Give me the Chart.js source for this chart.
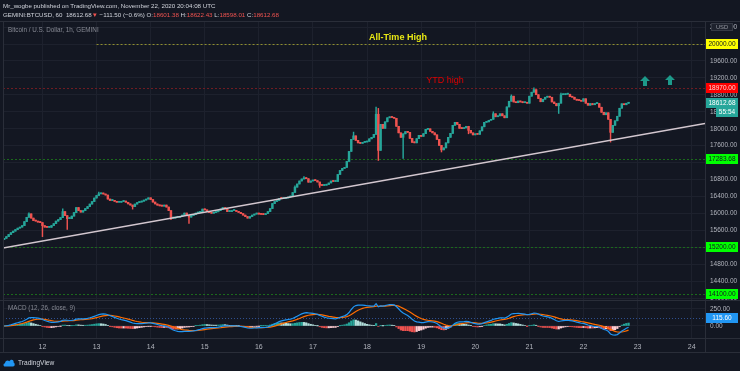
<!DOCTYPE html>
<html>
<head>
<meta charset="utf-8">
<script src="https://cdn.jsdelivr.net/npm/chart.js@4.4.0/dist/chart.umd.min.js"></script>
<style>
  body { margin: 0; background: #131722; }
  #wrap { position: relative; width: 740px; height: 371px; overflow: hidden; background: #131722; font-family: "Liberation Sans", Arial, sans-serif; }
  #c { position: absolute; left: 0; top: 0; }
  .hd { position: absolute; left: 3px; font-size: 6.2px; color: #d1d4dc; white-space: nowrap; }
  #h1 { top: 2px; }
  #h2 { top: 11px; }
  .red { color: #ef5350; }
  #foot { position: absolute; left: 3px; top: 358px; font-size: 6.6px; color: #d1d4dc; display: flex; align-items: center; gap: 3px; }
</style>
</head>
<body>
<div id="wrap">
  <canvas id="c" width="740" height="371"></canvas>
  <div class="hd" id="h1">Mr_wogbe published on TradingView.com, November 22, 2020 20:04:08 UTC</div>
  <div class="hd" id="h2">GEMINI:BTCUSD, 60&nbsp; 18612.68<span class="red">▼</span> −111.50 (−0.6%) O:<span class="red">18601.38</span> H:<span class="red">18622.43</span> L:<span class="red">18598.01</span> C:<span class="red">18612.68</span></div>
  <div id="foot">
    <svg width="12" height="9" viewBox="0 0 12 9"><path d="M2 8.5 C0 8.5 0 5.5 2 5.3 C2 2.5 5 1.5 6.3 3.3 C7.5 0.5 11.5 1.5 10.5 4.6 C12.3 5.2 12 8.5 10 8.5 Z" fill="#2196f3"/></svg>
    <span>TradingView</span>
  </div>
</div>
<script>
// x values are hours counted from Nov 11 2020 00:00 UTC
const days = ["12", "13", "14", "15", "16", "17", "18", "19", "20", "21", "22", "23", "24"];
const firstHour = 7;
const firstOpen = 15380;

// hourly closes, Nov 11 07:00 -> Nov 22 20:00
const closes = [
  15410, 15450, 15500, 15544, 15580, 15616, 15651, 15675, 15710, 15805,
  15907, 15988, 15888, 15829, 15817, 15793, 15782, 15710, 15675, 15670,
  15670, 15710, 15758, 15817, 15852, 15900, 16042, 15947, 15876, 15876,
  15935, 16018, 16137, 16066, 16030, 16066, 16113, 16160, 16220, 16279,
  16362, 16421, 16461, 16461, 16457, 16433, 16338, 16303, 16303, 16284,
  16262, 16262, 16279, 16291, 16262, 16224, 16196, 16160, 16220, 16255,
  16267, 16286, 16314, 16338, 16367, 16327, 16267, 16222, 16194, 16177,
  16170, 16196, 16149, 16066, 15888, 15888, 15907, 15907, 15924, 15959,
  16007, 15947, 15912, 15947, 15971, 16007, 16025, 16030, 16101, 16082,
  16042, 16018, 16002, 16018, 16037, 16066, 16101, 16137, 16106, 16042,
  16042, 16066, 16066, 16047, 16023, 15995, 15959, 15924, 15888, 15924,
  15959, 15983, 15995, 15983, 15976, 15971, 15995, 16042, 16113, 16232,
  16279, 16303, 16355, 16350, 16350, 16362, 16386, 16409, 16492, 16618,
  16694, 16765, 16812, 16836, 16819, 16736, 16765, 16777, 16772, 16741,
  16665, 16658, 16665, 16682, 16718, 16765, 16753, 16753, 16919, 17014,
  17062, 17085, 17227, 17464, 17748, 17831, 17725, 17666, 17654, 17678,
  17685, 17701, 17761, 17796, 17867, 18341, 17488, 18104, 18009, 18163,
  18258, 18277, 18265, 18246, 18057, 17902, 17796, 17879, 17931, 17914,
  17772, 17678, 17666, 17765, 17843, 17820, 17883, 17985, 17997, 17938,
  17902, 17855, 17748, 17606, 17500, 17547, 17666, 17796, 17890, 18080,
  18151, 18104, 18009, 18002, 18021, 18057, 17962, 17902, 17855, 17879,
  17867, 17950, 18045, 18151, 18163, 18199, 18222, 18353, 18282, 18305,
  18353, 18305, 18258, 18514, 18649, 18768, 18632, 18614, 18654, 18632,
  18614, 18625, 18602, 18768, 18862, 18922, 18803, 18713, 18637, 18696,
  18744, 18756, 18744, 18632, 18594, 18542, 18602, 18803, 18803, 18815,
  18815, 18756, 18744, 18696, 18673, 18666, 18649, 18708, 18602, 18554,
  18594, 18566, 18594, 18594, 18507, 18388, 18329, 18376, 18222, 17914,
  18080, 18187, 18294, 18483, 18590, 18566, 18601.38, 18612.68
];
// visible wicks (candle index -> price)
const wickHigh = { 11: 16010, 26: 16110, 42: 16500, 129: 16650, 133: 16870, 155: 17920, 165: 18510, 166: 18480, 217: 18400, 225: 18800, 235: 18965, 247: 18840, 277: 18622.43 };
const wickLow = { 17: 15450, 28: 15620, 57: 16100, 74: 15850, 82: 15760, 140: 16610, 166: 17250, 177: 17300, 194: 17450, 206: 17880, 246: 18360, 269: 17684, 277: 18598.01 };

const macdTicks = [0, 250];
const levels = [20000, 18970, 17283.68, 15200, 14100];
const levelStart = [48, 6.5, 6.5, 6.5, 6.5];
const trendX = [6.5, 317.9];
const trendY = [15180, 18125];
const macdMark = 115.60;
const notes = ["All-Time High", "YTD high"];
const noteX = [181.7, 202.6];
const noteY = [20166, 19147];
const arrowX = [291.3, 302.4];
const arrowY = [19135, 19150];
const lastPrice = 18612.68;

const UP = "#26a69a";
const DOWN = "#ef5350";
const GRID = "#1d212d";
const LINE = "#2a2e39";
const TXT = "#b2b5be";
const FONT = '"Liberation Sans", Arial, sans-serif';
const levelLine = ["#8f8f2e", "#6e1c22", "#1b6a1b", "#1b6a1b", "#1b6a1b"];
const levelBg = ["#ffff00", "#ff0000", "#00ff00", "#00ff00", "#00ff00"];
const levelFg = ["#131722", "#ffd6d6", "#131722", "#131722", "#131722"];
const noteColor = ["#e8e814", "#e00000"];

const opens = closes.map((c, i) => (i === 0 ? firstOpen : closes[i - 1]));
const hours = closes.map((c, i) => firstHour + i);
const highs = closes.map((c, i) => Math.max(opens[i], c, wickHigh[i] || 0));
const lows = closes.map((c, i) => Math.min(opens[i], c, wickLow[i] || Infinity));
const candleColors = closes.map((c, i) => (c >= opens[i] ? UP : DOWN));

// MACD (12, 26, close, 9)
function ema(src, n) {
  const k = 2 / (n + 1);
  const out = [];
  src.forEach((v, i) => out.push(i === 0 ? v : v * k + out[i - 1] * (1 - k)));
  return out;
}
const e12 = ema(closes, 12);
const e26 = ema(closes, 26);
const macd = e12.map((v, i) => v - e26[i]);
const signal = ema(macd, 9);
const hist = macd.map((v, i) => v - signal[i]);
const histColors = hist.map((h, i) => {
  const prev = i ? hist[i - 1] : 0;
  if (h >= 0) return h >= prev ? "#26a69a" : "#b2dfdb";
  return h < prev ? "#ef5350" : "#ffcdd2";
});

function badge(ctx, yPix, text, bg, fg, x0, w) {
  ctx.fillStyle = bg;
  ctx.fillRect(x0, Math.round(yPix) - 5, w, 10);
  ctx.fillStyle = fg;
  ctx.font = "6.5px " + FONT;
  ctx.textAlign = "center";
  ctx.textBaseline = "middle";
  ctx.fillText(text, x0 + w / 2, Math.round(yPix) + 0.5);
}

const decor = {
  id: "decor",
  beforeDatasetsDraw(chart) {
    const { ctx, chartArea: a, scales: { x, y, y2 } } = chart;
    ctx.save();
    ctx.lineWidth = 1;
    ctx.setLineDash([2, 2]);
    levels.forEach((p, k) => {
      const py = Math.round(y.getPixelForValue(p)) + 0.5;
      ctx.strokeStyle = levelLine[k];
      ctx.beginPath();
      ctx.moveTo(x.getPixelForValue(levelStart[k]), py);
      ctx.lineTo(a.right, py);
      ctx.stroke();
    });
    ctx.strokeStyle = "#2f4f8f";
    ctx.setLineDash([1, 2]);
    const my = Math.round(y2.getPixelForValue(macdMark)) + 0.5;
    ctx.beginPath();
    ctx.moveTo(a.left, my);
    ctx.lineTo(a.right, my);
    ctx.stroke();
    ctx.restore();
  },
  afterDraw(chart) {
    const { ctx, chartArea: a, scales: { x, y, y2 } } = chart;
    ctx.save();
    // pane borders
    ctx.strokeStyle = LINE;
    ctx.lineWidth = 1;
    [21.5, Math.round(y2.top) + 0.5, a.bottom + 0.5, 352.5].forEach((ly) => {
      ctx.beginPath();
      ctx.moveTo(0, ly);
      ctx.lineTo(740, ly);
      ctx.stroke();
    });
    ctx.beginPath();
    ctx.moveTo(3.5, 21.5);
    ctx.lineTo(3.5, 352.5);
    ctx.moveTo(a.right + 0.5, 21.5);
    ctx.lineTo(a.right + 0.5, 352.5);
    ctx.stroke();

    ctx.textBaseline = "middle";
    ctx.textAlign = "left";
    ctx.fillStyle = "#868993";
    ctx.font = "6.3px " + FONT;
    ctx.fillText("Bitcoin / U.S. Dollar, 1h, GEMINI", 8, 30);
    ctx.fillText("MACD (12, 26, close, 9)", 8, y2.top + 8);

    // notes
    ctx.textAlign = "center";
    notes.forEach((t, k) => {
      ctx.fillStyle = noteColor[k];
      ctx.font = (k === 0 ? "bold 9px " : "9px ") + FONT;
      ctx.fillText(t, x.getPixelForValue(noteX[k]), y.getPixelForValue(noteY[k]));
    });

    // arrows
    ctx.fillStyle = "#1d9a8a";
    arrowX.forEach((ax, k) => {
      const cx = Math.round(x.getPixelForValue(ax));
      const cy = Math.round(y.getPixelForValue(arrowY[k]));
      ctx.beginPath();
      ctx.moveTo(cx, cy - 5);
      ctx.lineTo(cx + 5, cy);
      ctx.lineTo(cx + 2, cy);
      ctx.lineTo(cx + 2, cy + 5);
      ctx.lineTo(cx - 2, cy + 5);
      ctx.lineTo(cx - 2, cy);
      ctx.lineTo(cx - 5, cy);
      ctx.closePath();
      ctx.fill();
    });

    // price badges
    const bx = a.right + 1;
    levels.forEach((p, k) => {
      badge(ctx, y.getPixelForValue(p), p.toFixed(2), levelBg[k], levelFg[k], bx, 32);
    });
    const ly = y.getPixelForValue(lastPrice);
    badge(ctx, ly, lastPrice.toFixed(2), "#26a69a", "#ffffff", bx, 32);
    badge(ctx, ly + 9.5, "55:54", "#26a69a", "#ffffff", bx + 10, 22);
    badge(ctx, y2.getPixelForValue(macdMark), macdMark.toFixed(2), "#2196f3", "#ffffff", bx, 32);

    // currency tag
    ctx.fillStyle = "#1e222d";
    ctx.strokeStyle = "#363a45";
    ctx.fillRect(bx + 5, 23, 22, 8);
    ctx.strokeRect(bx + 5.5, 23.5, 21, 7);
    ctx.fillStyle = "#9598a1";
    ctx.font = "5.8px " + FONT;
    ctx.fillText("USD", bx + 16, 27.5);
    ctx.restore();
  }
};

new Chart(document.getElementById("c"), {
  type: "bar",
  data: {
    datasets: [
      {
        type: "line",
        data: trendX.map((v, i) => ({ x: v, y: trendY[i] })),
        borderColor: "#d3c7cf",
        borderWidth: 1.4,
        pointRadius: 0,
        yAxisID: "y",
        order: 0
      },
      {
        data: hours.map((h, i) => ({ x: h, y: [opens[i], closes[i]] })),
        backgroundColor: candleColors,
        barThickness: 1.8,
        minBarLength: 1,
        grouped: false,
        yAxisID: "y",
        order: 1
      },
      {
        data: hours.map((h, i) => ({ x: h, y: [lows[i], highs[i]] })),
        backgroundColor: candleColors,
        barThickness: 0.8,
        minBarLength: 1,
        grouped: false,
        yAxisID: "y",
        order: 2
      },
      {
        data: hours.map((h, i) => ({ x: h, y: hist[i] })),
        backgroundColor: histColors,
        barThickness: 1.6,
        grouped: false,
        yAxisID: "y2",
        order: 3
      },
      {
        type: "line",
        data: hours.map((h, i) => ({ x: h, y: macd[i] })),
        borderColor: "#2196f3",
        borderWidth: 1.2,
        pointRadius: 0,
        yAxisID: "y2",
        order: 0
      },
      {
        type: "line",
        data: hours.map((h, i) => ({ x: h, y: signal[i] })),
        borderColor: "#ff6d00",
        borderWidth: 1.2,
        pointRadius: 0,
        yAxisID: "y2",
        order: 0
      }
    ]
  },
  options: {
    responsive: false,
    animation: false,
    layout: { padding: { left: 3, top: 22, right: 0, bottom: 19 } },
    plugins: { legend: { display: false }, tooltip: { enabled: false } },
    scales: {
      x: {
        type: "linear",
        min: 6.5,
        max: 317.9,
        offset: false,
        grid: { color: GRID, drawTicks: false, offset: false },
        border: { color: LINE },
        ticks: {
          stepSize: 24,
          includeBounds: false,
          autoSkip: false,
          maxTicksLimit: 100,
          maxRotation: 0,
          color: TXT,
          padding: 5,
          font: { size: 7, family: FONT },
          callback: (v) => days[v / 24 - 1]
        },
        afterFit: (s) => { s.height = 14; }
      },
      y: {
        position: "right",
        stack: "pane",
        stackWeight: 277,
        min: 13956,
        max: 20521,
        grid: { color: GRID, drawTicks: false },
        border: { color: LINE },
        ticks: {
          stepSize: 400,
          includeBounds: false,
          autoSkip: false,
          maxTicksLimit: 100,
          color: TXT,
          padding: 5,
          font: { size: 6.5, family: FONT },
          callback: (v) => v.toFixed(2)
        },
        afterFit: (s) => { s.width = 35; }
      },
      y2: {
        position: "right",
        stack: "pane",
        stackWeight: 38,
        min: -176,
        max: 382,
        grid: { color: GRID, drawTicks: false },
        border: { color: LINE },
        ticks: {
          autoSkip: false,
          color: TXT,
          padding: 5,
          font: { size: 6.5, family: FONT },
          callback: (v) => v.toFixed(2)
        },
        afterBuildTicks: (s) => { s.ticks = macdTicks.map((v) => ({ value: v })); },
        afterFit: (s) => { s.width = 35; }
      }
    }
  },
  plugins: [decor]
});
</script>
</body>
</html>
